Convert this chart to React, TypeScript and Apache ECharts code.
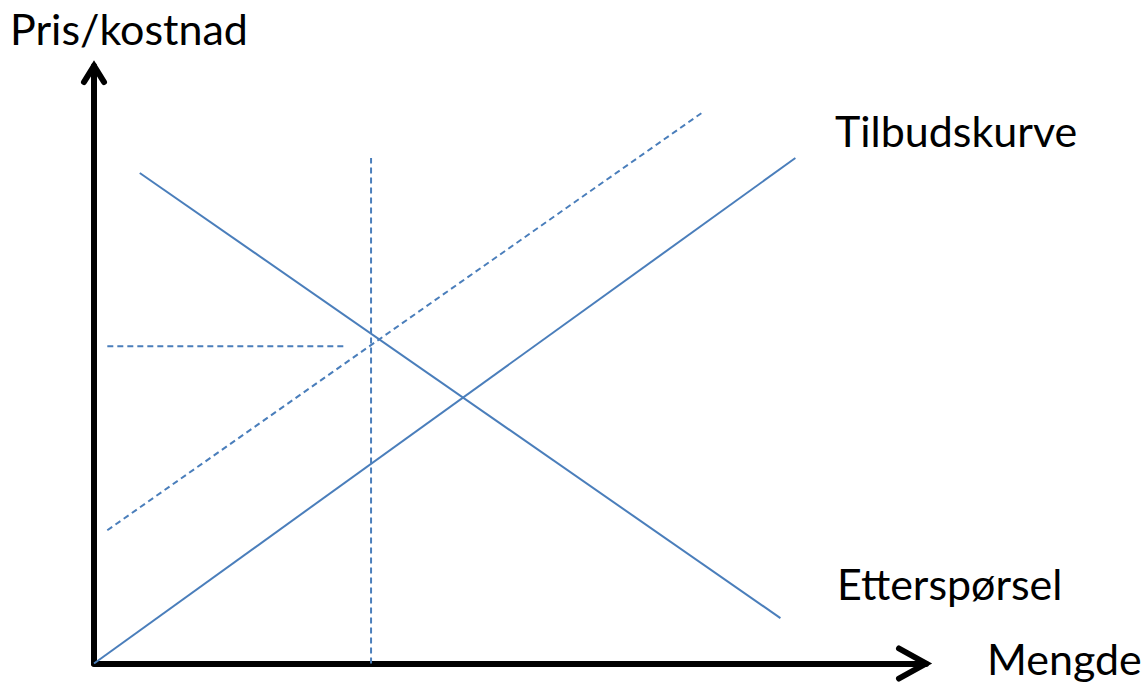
import React, { useEffect, useRef } from "react";
import * as echarts from "echarts";

// Data (quantity on x, price/cost on y)
const supplyCurve: [number, number][] = [[0, 0], [84.3, 84.6]];
const shiftedSupplyCurve: [number, number][] = [[1.6, 22.3], [73.0, 92.1]];
const demandCurve: [number, number][] = [[5.5, 82.1], [82.5, 7.6]];
const quantityMarker: [number, number][] = [[33.3, 0], [33.3, 84.6]];
const priceMarker: [number, number][] = [[1.6, 53.1], [30.2, 53.1]];

const yAxisTitle = "Pris/kostnad";
const xAxisTitle = "Mengde";
const supplyLabel = "Tilbudskurve";
const demandLabel = "Etterspørsel";

const BLUE = "#4A7EBB";
const FONT = "Lato";

export default function App() {
  const ref = useRef<HTMLDivElement>(null);
  useEffect(() => {
    if (!ref.current) return;
    const chart = echarts.init(ref.current, undefined, { renderer: "svg" });
    const solid = { color: BLUE, width: 2, type: "solid" as const };
    const dashed = { color: BLUE, width: 2, type: [6, 4] as any };
    const mkLine = (name: string, data: [number, number][], ls: any) => ({
      name,
      type: "line",
      data,
      symbol: "none",
      lineStyle: ls,
      silent: true,
    });
    const txt = (text: string, x: number, y: number) => ({
      type: "text",
      x,
      y,
      style: {
        text,
        fontFamily: FONT,
        fontSize: 43,
        fill: "#000",
        align: "left",
        verticalAlign: "middle",
      },
    });
    chart.setOption({
      animation: false,
      backgroundColor: "#fff",
      grid: { left: 94, right: 222, top: 66, bottom: 22.5 },
      xAxis: {
        type: "value",
        min: 0,
        max: 100,
        axisLine: { show: true, lineStyle: { color: "#000", width: 6 } },
        axisTick: { show: false },
        axisLabel: { show: false },
        splitLine: { show: false },
      },
      yAxis: {
        type: "value",
        min: 0,
        max: 100,
        axisLine: { show: true, lineStyle: { color: "#000", width: 6 } },
        axisTick: { show: false },
        axisLabel: { show: false },
        splitLine: { show: false },
      },
      series: [
        mkLine("Tilbud", supplyCurve, solid),
        mkLine("Tilbud 2", shiftedSupplyCurve, dashed),
        mkLine("Etterspørsel", demandCurve, solid),
        mkLine("Mengde", quantityMarker, dashed),
        mkLine("Pris", priceMarker, dashed),
      ],
      graphic: [
        {
          type: "polyline",
          shape: { points: [[899, 648.5], [926, 663.5], [899, 678.5]] },
          style: { stroke: "#000", lineWidth: 6, fill: "none", lineCap: "round", lineJoin: "miter" },
        },
        {
          type: "polyline",
          shape: { points: [[84, 82], [94, 66], [104, 82]] },
          style: { stroke: "#000", lineWidth: 6, fill: "none", lineCap: "round", lineJoin: "miter" },
        },
        txt(yAxisTitle, 10, 28),
        txt(supplyLabel, 835, 130),
        txt(demandLabel, 837, 583.5),
        txt(xAxisTitle, 987, 658.5),
      ],
    });
    return () => chart.dispose();
  }, []);
  return (
    <div
      ref={ref}
      style={{ position: "absolute", left: 0, top: 0, width: 1148, height: 686 }}
    />
  );
}
